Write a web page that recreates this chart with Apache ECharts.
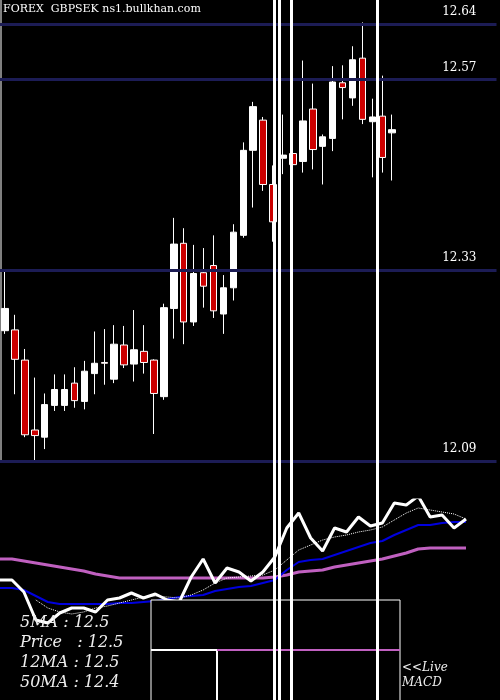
<!DOCTYPE html>
<html>
<head>
<meta charset="UTF-8">
<style>
  * { margin: 0; padding: 0; }
  body { background: #000; }
  #main { width: 500px; height: 700px; }
</style>
</head>
<body>
<div id="main"></div>
<script src="https://cdn.jsdelivr.net/npm/echarts@6/dist/echarts.min.js"></script>
<script>
    // candles: [open, close, low, high]
    let candles = [
        [12.254, 12.282, 12.250, 12.330], [12.255, 12.218, 12.174, 12.274],
        [12.217, 12.123, 12.120, 12.231], [12.129, 12.122, 12.089, 12.195],
        [12.120, 12.161, 12.105, 12.175], [12.160, 12.180, 12.153, 12.199],
        [12.160, 12.180, 12.153, 12.199], [12.188, 12.166, 12.157, 12.208],
        [12.165, 12.203, 12.155, 12.216], [12.200, 12.213, 12.174, 12.253],
        [12.214, 12.213, 12.186, 12.256], [12.193, 12.237, 12.188, 12.261],
        [12.236, 12.211, 12.207, 12.260], [12.212, 12.230, 12.190, 12.280],
        [12.228, 12.214, 12.200, 12.261], [12.217, 12.175, 12.124, 12.218],
        [12.171, 12.283, 12.167, 12.288], [12.282, 12.363, 12.244, 12.396],
        [12.364, 12.265, 12.237, 12.383], [12.265, 12.326, 12.260, 12.362],
        [12.327, 12.310, 12.283, 12.358], [12.336, 12.279, 12.270, 12.374],
        [12.275, 12.308, 12.250, 12.324], [12.308, 12.378, 12.292, 12.388],
        [12.374, 12.481, 12.371, 12.491], [12.481, 12.536, 12.409, 12.542],
        [12.519, 12.438, 12.430, 12.523], [12.438, 12.391, 12.366, 12.462],
        [12.471, 12.475, 12.451, 12.526], [12.477, 12.463, 12.460, 12.485],
        [12.467, 12.518, 12.453, 12.594], [12.533, 12.482, 12.457, 12.565],
        [12.486, 12.498, 12.438, 12.501], [12.496, 12.567, 12.480, 12.587],
        [12.566, 12.560, 12.520, 12.588], [12.547, 12.595, 12.537, 12.612],
        [12.597, 12.520, 12.514, 12.642], [12.517, 12.523, 12.447, 12.546],
        [12.524, 12.472, 12.453, 12.575], [12.503, 12.507, 12.443, 12.526]
    ];
    let priceLevels = [12.64, 12.57, 12.33, 12.09];
    let markerPos = [27.1, 27.6, 28.8, 37.5];

    // lower panel (relative levels)
    let priceLine = [120, 120, 108, 80, 77, 87, 92, 92, 88, 100, 102, 107, 102, 106, 100, 98, 123, 141, 117, 132,
        128, 119, 128, 143, 172, 187, 162, 149, 172, 168, 183, 174, 177, 197, 195, 204, 183, 185, 172, 181];
    let ma5 = [null, null, null, 100, 92, 88, 86, 88, 92, 94, 97, 100, 103, 104, 103, 102, 105, 110, 117, 122,
        123, 124, 125, 130, 140, 150, 155, 160, 163, 165, 168, 170, 173, 180, 187, 192, 190, 188, 186, 181];
    let ma12 = [112, 112, 110, 104, 98, 96, 96, 96, 96, 96, 97, 97, 98, 99, 101, 103, 104, 105, 109, 111,
        113, 114, 117, 120, 130, 138, 140, 141, 145, 149, 153, 157, 159, 165, 170, 175, 175, 177, 178, 178];
    let ma50 = [141, 141, 139, 137, 135, 133, 131, 129, 126, 124, 122, 122, 122, 122, 122, 122, 122, 122, 122, 122,
        122, 122, 122, 123, 125, 128, 129, 130, 133, 135, 137, 139, 141, 144, 147, 151, 152, 152, 152, 152];
    let infoLines = ['5MA : 12.5', 'Price   : 12.5', '12MA : 12.5', '50MA : 12.4'];

    let cats = [];
    for (let i = 0; i < 50; i++) cats.push(String(i + 1));
    let idx = priceLine.map((v, i) => 'p' + i);

    let option = {
        backgroundColor: '#000',
        animation: false,
        grid: [
            { left: -2, top: 24, width: 498.5, height: 437 },
            { left: 0, top: 500, width: 466, height: 200 },
            { left: -2, top: 0, width: 498.5, height: 700 }
        ],
        xAxis: [
            { type: 'category', data: cats, gridIndex: 0, show: false },
            { type: 'category', data: idx, gridIndex: 1, show: false, boundaryGap: false },
            { type: 'value', gridIndex: 2, min: -0.5, max: 49.5, show: false }
        ],
        yAxis: [
            { type: 'value', gridIndex: 0, min: 12.09, max: 12.64, show: false },
            { type: 'value', gridIndex: 1, min: 0, max: 200, show: false },
            { type: 'value', gridIndex: 2, min: 0, max: 1, show: false }
        ],
        series: [
            {
                type: 'candlestick', xAxisIndex: 0, yAxisIndex: 0, data: candles, barWidth: 7, z: 3,
                itemStyle: { color: '#fff', color0: '#cc0000', borderColor: '#fff', borderColor0: '#fff', borderWidth: 1 },
                markLine: {
                    silent: true, symbol: 'none',
                    lineStyle: { color: '#1c1c55', width: 3, type: 'solid' },
                    label: { position: 'insideEndTop', color: '#fff', fontFamily: 'DejaVu Serif', fontSize: 12, distance: [20, 6],
                        formatter: p => p.value.toFixed(2) },
                    data: priceLevels.map(v => ({ yAxis: v }))
                }
            },
            { type: 'line', xAxisIndex: 1, yAxisIndex: 1, data: ma50, symbol: 'none', lineStyle: { color: '#c060c0', width: 3 } },
            { type: 'line', xAxisIndex: 1, yAxisIndex: 1, data: ma12, symbol: 'none', lineStyle: { color: '#0000dd', width: 2 } },
            { type: 'line', xAxisIndex: 1, yAxisIndex: 1, data: ma5, symbol: 'none', lineStyle: { color: '#fff', width: 1, type: 'dotted' } },
            { type: 'line', xAxisIndex: 1, yAxisIndex: 1, data: priceLine, symbol: 'none', lineStyle: { color: '#fff', width: 3 } },
            {
                type: 'line', xAxisIndex: 2, yAxisIndex: 2, data: [], z: 10,
                markLine: {
                    silent: true, symbol: 'none', label: { show: false },
                    lineStyle: { color: '#fff', width: 3, type: 'solid' },
                    data: markerPos.map(v => ({ xAxis: v }))
                }
            }
        ],
        graphic: [
            { type: 'text', left: 3, top: 4, style: { text: 'FOREX  GBPSEK ns1.bullkhan.com', fill: '#fff', font: '11px "DejaVu Serif"' } },
            { type: 'line', shape: { x1: 1, y1: 0, x2: 1, y2: 462 }, style: { stroke: '#fff', lineWidth: 1 } },
            { type: 'rect', shape: { x: 151, y: 600, width: 249, height: 110 }, style: { fill: '#000', stroke: '#fff', lineWidth: 1 }, z: 5 },
            { type: 'line', shape: { x1: 151, y1: 650, x2: 217, y2: 650 }, style: { stroke: '#fff', lineWidth: 2 }, z: 5 },
            { type: 'line', shape: { x1: 217, y1: 650, x2: 217, y2: 700 }, style: { stroke: '#fff', lineWidth: 2 }, z: 5 },
            { type: 'line', shape: { x1: 217, y1: 650, x2: 400, y2: 650 }, style: { stroke: '#c060c0', lineWidth: 2 }, z: 5 }
        ].concat(infoLines.map((t, i) => ({
            type: 'text', left: 20, top: 615 + i * 20, z: 6,
            style: { text: t, fill: '#eee', font: 'italic 16px "DejaVu Serif"' }
        }))).concat([
            { type: 'text', left: 402, top: 660, style: { text: '<<Live\nMACD', fill: '#eee', font: 'italic 12px "DejaVu Serif"', lineHeight: 15 } }
        ])
    };

    let myCharts = echarts.init(document.getElementById('main'));
    myCharts.setOption(option);
</script>
</body>
</html>
